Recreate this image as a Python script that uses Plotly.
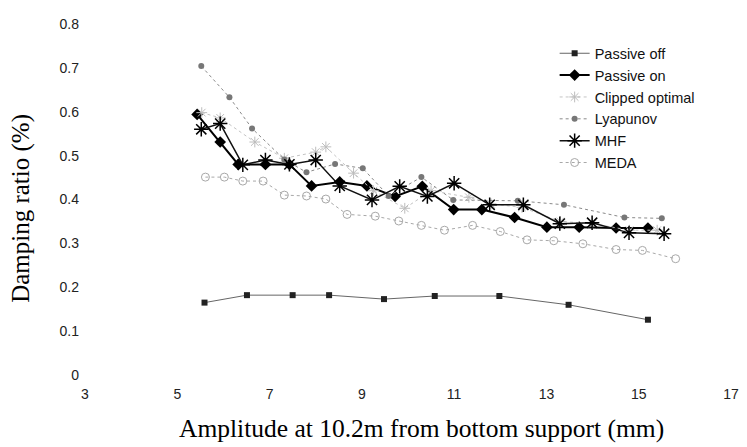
import plotly.graph_objects as go

# ---- data ----
x_passive_off = [5.59, 6.51, 7.50, 8.29, 9.48, 10.58, 11.98, 13.48, 15.2]
y_passive_off = [0.165, 0.182, 0.182, 0.182, 0.173, 0.180, 0.180, 0.160, 0.126]

x_passive_on = [5.43, 5.93, 6.32, 6.91, 7.43, 7.91, 8.52, 9.11, 9.72, 10.31, 10.99, 11.60, 12.31, 13.01, 13.71, 14.51, 15.2]
y_passive_on = [0.594, 0.531, 0.480, 0.480, 0.480, 0.431, 0.440, 0.431, 0.407, 0.430, 0.377, 0.377, 0.359, 0.337, 0.337, 0.335, 0.335]

x_clipped = [5.53, 5.93, 6.68, 7.32, 8.0, 8.22, 8.82, 9.25, 9.93, 10.5, 11.32, 11.8, 12.47, 13.3, 14.0, 14.8, 15.4]
y_clipped = [0.598, 0.586, 0.531, 0.494, 0.508, 0.52, 0.46, 0.42, 0.38, 0.42, 0.405, 0.39, 0.382, 0.35, 0.345, 0.33, 0.33]

x_lyapunov = [5.52, 6.13, 6.62, 7.32, 7.80, 8.42, 9.02, 9.58, 10.29, 10.98, 12.38, 13.38, 14.69, 15.5]
y_lyapunov = [0.704, 0.633, 0.562, 0.491, 0.462, 0.481, 0.471, 0.408, 0.451, 0.399, 0.397, 0.388, 0.359, 0.357]

x_mhf = [5.52, 5.93, 6.42, 6.91, 7.43, 8.0, 8.52, 9.22, 9.82, 10.42, 11.0, 11.77, 12.50, 13.29, 13.99, 14.79, 15.55]
y_mhf = [0.560, 0.573, 0.479, 0.490, 0.480, 0.490, 0.431, 0.399, 0.430, 0.407, 0.437, 0.388, 0.388, 0.345, 0.347, 0.324, 0.322]

x_meda = [5.61, 6.02, 6.42, 6.86, 7.32, 7.8, 8.22, 8.68, 9.29, 9.80, 10.29, 10.79, 11.40, 12.0, 12.58, 13.16, 13.79, 14.51, 15.08, 15.8]
y_meda = [0.451, 0.451, 0.442, 0.442, 0.410, 0.408, 0.401, 0.366, 0.362, 0.351, 0.341, 0.330, 0.341, 0.327, 0.308, 0.306, 0.299, 0.286, 0.284, 0.265]

x_ticks = [3, 5, 7, 9, 11, 13, 15, 17]
y_ticks = [0, 0.1, 0.2, 0.3, 0.4, 0.5, 0.6, 0.7, 0.8]

x_title = "Amplitude at 10.2m from bottom support (mm)"
y_title = "Damping ratio (%)"

fig = go.Figure()
fig.add_trace(go.Scatter(x=x_passive_off, y=y_passive_off, name="Passive off", mode="lines+markers",
                         line=dict(color="#666666", width=1),
                         marker=dict(symbol="square", size=6, color="#222222")))
fig.add_trace(go.Scatter(x=x_passive_on, y=y_passive_on, name="Passive on", mode="lines+markers",
                         line=dict(color="#000000", width=2),
                         marker=dict(symbol="diamond", size=9, color="#000000")))
fig.add_trace(go.Scatter(x=x_clipped, y=y_clipped, name="Clipped optimal", mode="lines+markers",
                         line=dict(color="#c4c4c4", width=1, dash="dot"),
                         marker=dict(symbol="asterisk-open", size=9, color="#bdbdbd",
                                     line=dict(color="#bdbdbd", width=1))))
fig.add_trace(go.Scatter(x=x_lyapunov, y=y_lyapunov, name="Lyapunov", mode="lines+markers",
                         line=dict(color="#8a8a8a", width=1, dash="dot"),
                         marker=dict(symbol="circle", size=6, color="#777777")))
fig.add_trace(go.Scatter(x=x_mhf, y=y_mhf, name="MHF", mode="lines+markers",
                         line=dict(color="#111111", width=1.5),
                         marker=dict(symbol="asterisk-open", size=12, color="#000000",
                                     line=dict(color="#000000", width=1.5))))
fig.add_trace(go.Scatter(x=x_meda, y=y_meda, name="MEDA", mode="lines+markers",
                         line=dict(color="#a8a8a8", width=1, dash="dot"),
                         marker=dict(symbol="circle-open", size=8, color="#a8a8a8",
                                     line=dict(color="#a8a8a8", width=1))))

serif = "Liberation Serif, Times New Roman, serif"
sans = "Liberation Sans, Arial, sans-serif"

fig.update_layout(
    width=739, height=439,
    margin=dict(l=77, r=9, t=8, b=72),
    paper_bgcolor="white", plot_bgcolor="white",
    font=dict(family=sans, size=14, color="#222222"),
    showlegend=True,
    legend=dict(x=0.727, y=0.962, xanchor="left", yanchor="top",
                font=dict(family=sans, size=14.5, color="#111111"),
                bgcolor="rgba(0,0,0,0)", tracegroupgap=0),
    xaxis=dict(range=[3, 17], tickmode="array", tickvals=x_ticks,
               showgrid=False, zeroline=False, showline=False, ticks="",
               ticklabelstandoff=9, ticklabeloverflow="allow"),
    yaxis=dict(range=[0, 0.8], tickmode="array", tickvals=y_ticks,
               showgrid=False, zeroline=False, showline=False, ticks="",
               ticklabelstandoff=5, ticklabeloverflow="allow"),
    annotations=[
        dict(text=x_title, xref="paper", yref="paper", x=0.521, y=-0.153,
             xanchor="center", yanchor="middle", showarrow=False,
             font=dict(family=serif, size=25.5, color="#000000")),
        dict(text=y_title, xref="paper", yref="paper", x=-0.099, y=0.4735,
             xanchor="center", yanchor="middle", showarrow=False, textangle=-90,
             font=dict(family=serif, size=25, color="#000000")),
    ],
)

fig.write_html("out.html")
